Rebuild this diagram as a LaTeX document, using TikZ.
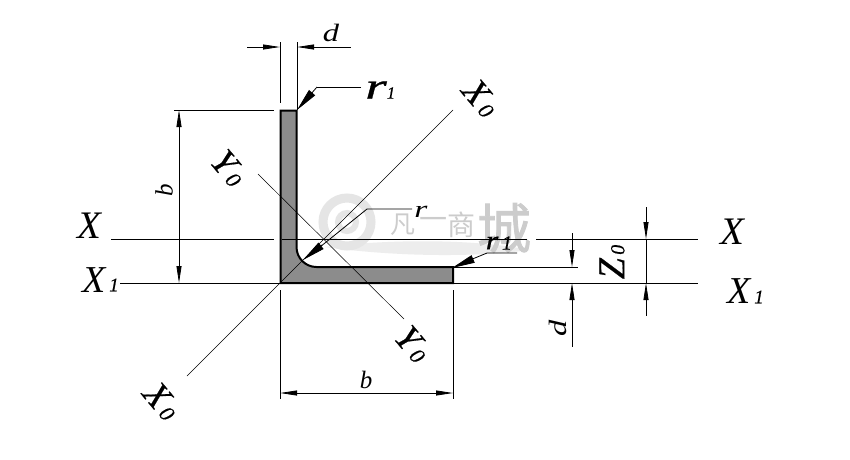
\documentclass[tikz,border=0pt]{standalone}
\usepackage{fontspec}
\usepackage{graphicx}
\setmainfont{Liberation Serif}[ItalicFeatures={FakeBold=0.5}]
\newfontfamily\thinit{Liberation Serif Italic}
\newfontfamily\cjkwm{Noto Sans CJK SC}
\newfontfamily\cjkwmb{Noto Sans CJK SC}[FakeBold=1.5]
\usetikzlibrary{arrows.meta}
\newcommand{\fsz}[1]{\fontsize{#1}{#1}\selectfont}
\newcommand{\lab}[3]{{\fsz{#1}\itshape #2{\fsz{#3}\,0}}}
\tikzset{
  x=1pt,y=-1pt,
  thinline/.style={line width=0.8pt,black},
  centerline/.style={line width=0.6pt,black},
  tip/.style={-{Triangle[length=17pt,width=5pt]}},
  wedge/.style={-{Triangle[length=23pt,width=8pt]}},
  txt/.style={inner sep=0pt,outer sep=0pt,text=black},
  wmark/.style={inner sep=0pt,outer sep=0pt},
}
\begin{document}
\begin{tikzpicture}
\useasboundingbox (0,0) rectangle (850,459);
\fill[white] (0,0) rectangle (850,459);
% watermark
\fill[black!7] (325,247) .. controls (400,238) and (480,240) .. (530,250) .. controls (470,258) and (390,256) .. (325,247) -- cycle;
\draw[black!10,line width=9pt] (347,222) circle (24);
\draw[black!10,line width=6pt] (347,222) circle (9);
\draw[white,line width=2pt,dash pattern=on 5pt off 4pt] (347,222) circle (16);
\node[wmark,text=black!20,font=\cjkwm\fsz{25}] (wa) at (403,225) {凡};
\node[wmark,text=black!20,font=\cjkwm\fsz{28}] (wb) at (433,223) {一};
\node[wmark,text=black!20,font=\cjkwm\fsz{28}] (wc) at (461,225) {商};
\node[wmark,text=black!20,font=\cjkwmb\fsz{54}] (wd) at (504,228) {城};
% section
\path[fill=black!45,draw=black,line width=2pt,line join=miter]
  (280.5,110.5) -- (296.5,110.5) -- (296.5,247) arc[start angle=180,end angle=90,radius=20]
  -- (316.5,267) -- (453,267) -- (453,283) -- (280.5,283) -- cycle;
% axes
\draw[centerline] (111,239) -- (274,239) (282,239) -- (527,239) (536,239) -- (698,239);
\draw[centerline] (120,283) -- (698,283);
\draw[line width=0.5pt] (187,376) -- (453,110);
\draw[line width=0.5pt] (258,174) -- (404,319);
% top d
\draw[thinline] (280,42) -- (280,103) (297,42) -- (297,110);
\draw[thinline] (247,47) -- (263,47);
\draw[thinline,tip] (263,47) -- (280,47);
\draw[thinline,tip] (314,47) -- (297,47);
\draw[thinline] (314,47) -- (351,47);
% r1 upper
\draw[thinline] (361,87) -- (317,87);
\draw[thinline,wedge] (317,87) -- (297,110);
% b left
\draw[thinline] (174,110) -- (274,110);
\draw[thinline] (179,127) -- (179,266);
\draw[thinline,tip] (179,127) -- (179,110);
\draw[thinline,tip] (179,266) -- (179,283);
% r centre
\draw[thinline] (412,209) -- (367,209) -- (320,247);
\draw[thinline,wedge] (322,245) -- (303,260);
% r1 lower
\draw[thinline] (517,253) -- (487,253) -- (470,260);
\draw[thinline,wedge] (473,259) -- (452,268);
% d right
\draw[thinline] (453,267) -- (578,267);
\draw[thinline] (572,233) -- (572,250) (572,300) -- (572,347);
\draw[thinline,tip] (572,250) -- (572,267);
\draw[thinline,tip] (572,300) -- (572,283);
% Z0
\draw[thinline] (646,207) -- (646,222) (646,300) -- (646,316) (646,239) -- (646,283);
\draw[thinline,tip] (646,222) -- (646,239);
\draw[thinline,tip] (646,300) -- (646,283);
% b bottom
\draw[thinline] (280,290) -- (280,399) (453,290) -- (453,399);
\draw[thinline] (297,393) -- (436,393);
\draw[thinline,tip] (297,393) -- (280,393);
\draw[thinline,tip] (436,393) -- (453,393);
% labels
\node[txt] (dtop) at (331,33) {\scalebox{1.3}[1]{\fsz{25}\thinit d}};
\node[txt] (ra) at (376,90) {\scalebox{1.5}[1]{\fsz{37}\itshape r}};
\node[txt] (raone) at (391,93) {\fsz{17}\itshape 1};
\node[txt,rotate=90] (bleft) at (164,190) {\fsz{25}\thinit b};
\node[txt] (xl) at (89,226) {\fsz{39}\thinit X};
\node[txt] (xol) at (94,280) {\fsz{38}\thinit X};
\node[txt] (xoln) at (114,285) {\fsz{19}\itshape 1};
\node[txt] (xr) at (732,232) {\fsz{39}\thinit X};
\node[txt] (xor) at (739,291) {\fsz{38}\thinit X};
\node[txt] (xorn) at (759,297) {\fsz{19}\itshape 1};
\node[txt,rotate=-50] (xa) at (481,98) {\lab{36}{X}{22}};
\node[txt,rotate=-50] (ya) at (229,168) {\lab{36}{Y}{22}};
\node[txt,rotate=-50] (yb) at (413,344) {\lab{36}{Y}{22}};
\node[txt,rotate=-50] (xb) at (162,401) {\lab{36}{X}{22}};
\node[txt] (rc) at (421,212) {\scalebox{1.4}[1]{\fsz{24}\thinit r}};
\node[txt] (rd) at (492,243) {\scalebox{1.2}[1]{\fsz{27}\itshape r}};
\node[txt] (rdn) at (507,243) {\fsz{20}\itshape 1};
\node[txt,rotate=90] (dr) at (558,328) {\scalebox{1.3}[1]{\fsz{25}\thinit d}};
\node[txt,rotate=90] (zo) at (612,262) {\lab{38}{Z}{20}};
\node[txt] (bb) at (366,380) {\fsz{25}\thinit b};
\end{tikzpicture}
\end{document}
